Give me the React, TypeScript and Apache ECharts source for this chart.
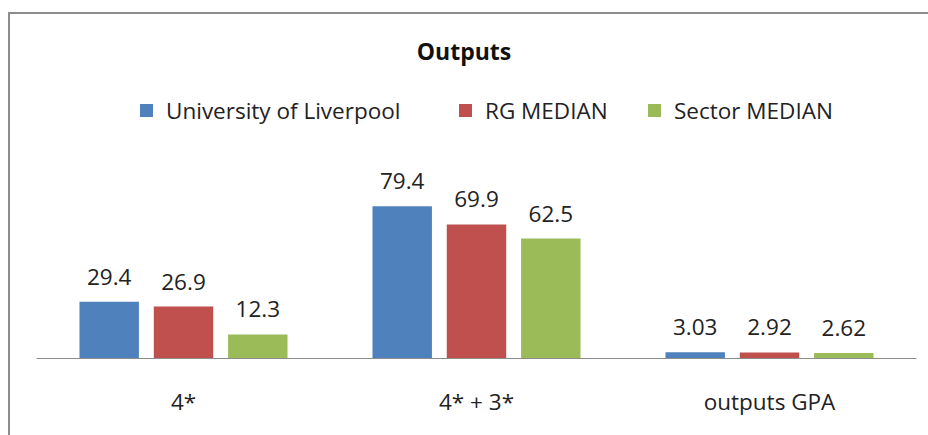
import React, { useEffect, useRef } from "react";
import * as echarts from "echarts";

const categories = ["4*", "4* + 3*", "outputs GPA"];
const seriesNames = ["University of Liverpool", "RG MEDIAN", "Sector MEDIAN"];
const liverpool = [29.4, 79.4, 3.03];
const rgMedian = [26.9, 69.9, 2.92];
const sectorMedian = [12.3, 62.5, 2.62];
const colors = ["#4F81BD", "#C0504D", "#9BBB59"];

const FONT = "'Open Sans', sans-serif";

export default function App() {
  const ref = useRef<HTMLDivElement>(null);
  useEffect(() => {
    document.body.style.margin = "0";
    const chart = echarts.init(ref.current!, null, { renderer: "svg" });
    const values = [liverpool, rgMedian, sectorMedian];
    const legendLefts = [135, 454, 643];
    chart.setOption({
      animation: false,
      backgroundColor: "#ffffff",
      title: {
        text: "Outputs",
        left: "center",
        top: 34,
        textStyle: { fontFamily: FONT, fontWeight: "bold", fontSize: 23, color: "#111" },
      },
      legend: seriesNames.map((n, i) => ({
        data: [n],
        left: legendLefts[i],
        top: 94,
        itemWidth: 13,
        itemHeight: 13,
        icon: "rect",
        selectedMode: false,
        textStyle: { fontFamily: FONT, fontSize: 22.5, color: "#222", padding: [0, 0, 0, 8] },
      })),
      grid: { left: 37, right: 12, top: 186, bottom: 77, containLabel: false },
      xAxis: {
        type: "category",
        data: categories,
        axisLine: { show: true, lineStyle: { color: "#8c8c8c", width: 1 } },
        axisTick: { show: false },
        axisLabel: { margin: 32, fontFamily: FONT, fontSize: 22.5, color: "#222" },
      },
      yAxis: {
        type: "value",
        min: 0,
        max: 90,
        show: false,
        splitLine: { show: false },
      },
      series: seriesNames.map((n, i) => ({
        name: n,
        type: "bar",
        data: values[i],
        barGap: "25%",
        barCategoryGap: "29%",
        itemStyle: { color: colors[i] },
        label: {
          show: true,
          position: "top",
          distance: 14,
          fontFamily: FONT,
          fontSize: 22.5,
          color: "#222",
        },
      })),
      graphic: [
        {
          type: "rect",
          shape: { x: 9, y: 13, width: 1000, height: 600 },
          style: { fill: "none", stroke: "#8c8c8c", lineWidth: 2 },
          silent: true,
        },
      ],
    });
    return () => chart.dispose();
  }, []);
  return <div ref={ref} style={{ width: 928, height: 435 }} />;
}
